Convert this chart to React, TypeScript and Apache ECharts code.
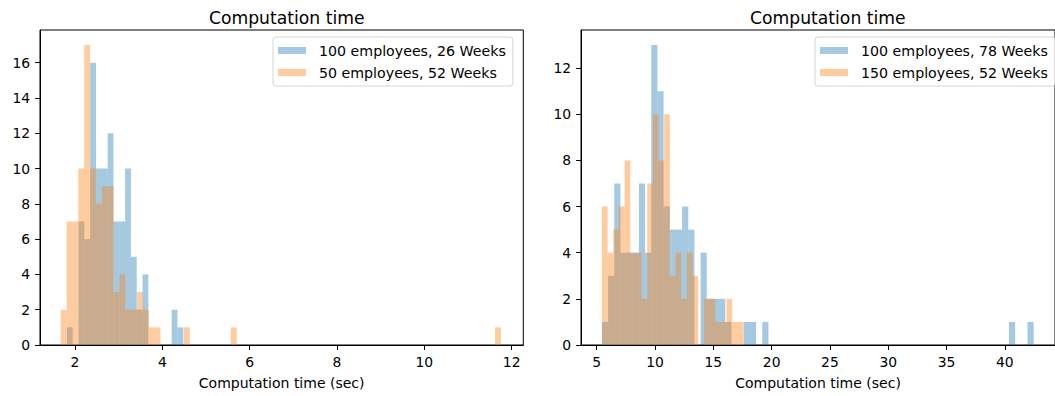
import { useEffect, useRef } from "react";
import * as echarts from "echarts";

const FONT = "'DejaVu Sans', sans-serif";

const titleText = "Computation time";
const xAxisName = "Computation time (sec)";

// Left panel
const leftBlueName = "100 employees, 26 Weeks";
const leftBlueStart = 1.815;
const leftBlueWidth = 0.13325;
const leftBlueCounts = [1, 0, 7, 6, 16, 10, 10, 12, 7, 7, 10, 5, 2, 4, 0, 0, 0, 0, 2, 1];

const leftOrangeName = "50 employees, 52 Weeks";
const leftOrangeStart = 1.673;
const leftOrangeWidth = 0.1344;
const leftOrangeCounts = [
  2, 7, 7, 10, 17, 10, 8, 9, 9, 3,
  4, 2, 2, 3, 2, 1, 1, 0, 0, 0,
  0, 1, 0, 0, 0, 0, 0, 0, 0, 1,
  0, 0, 0, 0, 0, 0, 0, 0, 0, 0,
  0, 0, 0, 0, 0, 0, 0, 0, 0, 0,
  0, 0, 0, 0, 0, 0, 0, 0, 0, 0,
  0, 0, 0, 0, 0, 0, 0, 0, 0, 0,
  0, 0, 0, 0, 1,
];

// Right panel
const rightBlueName = "100 employees, 78 Weeks";
const rightBlueStart = 5.446;
const rightBlueWidth = 0.5289;
const rightBlueCounts = [
  1, 3, 7, 4, 4, 4, 7, 4, 13, 11,
  6, 5, 5, 6, 5, 0, 4, 2, 2, 2,
  1, 0, 0, 1, 1, 0, 1, 0, 0, 0,
  0, 0, 0, 0, 0, 0, 0, 0, 0, 0,
  0, 0, 0, 0, 0, 0, 0, 0, 0, 0,
  0, 0, 0, 0, 0, 0, 0, 0, 0, 0,
  0, 0, 0, 0, 0, 0, 1, 0, 0, 1,
];

const rightOrangeName = "150 employees, 52 Weeks";
const rightOrangeStart = 5.446;
const rightOrangeWidth = 0.4856;
const rightOrangeCounts = [
  6, 4, 5, 6, 8, 4, 4, 2, 7, 10,
  8, 10, 3, 4, 2, 4, 3, 0, 2, 2,
  1, 1, 2, 1, 1,
];

const leftXTicks = [2, 4, 6, 8, 10, 12];
const rightXTicks = [5, 10, 15, 20, 25, 30, 35, 40];
const leftYTicks = [0, 2, 4, 6, 8, 10, 12, 14, 16];
const rightYTicks = [0, 2, 4, 6, 8, 10, 12];

const BLUE = "rgba(31,119,180,0.4)";
const ORANGE = "rgba(255,127,14,0.4)";

function bins(start: number, width: number, counts: number[]) {
  const out: number[][] = [];
  counts.forEach((c, i) => {
    if (c > 0) out.push([start + i * width, start + (i + 1) * width, c]);
  });
  return out;
}

function renderBar(params: any, api: any) {
  const p0 = api.coord([api.value(0), api.value(2)]);
  const p1 = api.coord([api.value(1), 0]);
  return {
    type: "rect",
    shape: { x: p0[0], y: p0[1], width: p1[0] - p0[0], height: p1[1] - p0[1] },
    style: { fill: api.visual("color") },
  };
}

function xAxis(gridIndex: number, min: number, max: number, ticks: number[]) {
  return {
    type: "value",
    gridIndex,
    min,
    max,
    name: xAxisName,
    nameLocation: "middle",
    nameGap: 31,
    nameTextStyle: { fontSize: 14, fontFamily: FONT, color: "#000" },
    axisLine: { show: true, lineStyle: { color: "#000", width: 1 } },
    axisTick: { show: true, length: 4.9, lineStyle: { color: "#000", width: 1 }, customValues: ticks },
    axisLabel: { fontSize: 13.9, fontFamily: FONT, color: "#000", margin: 9.8, customValues: ticks },
    splitLine: { show: false },
  };
}

function yAxis(gridIndex: number, max: number, ticks: number[]) {
  return {
    type: "value",
    gridIndex,
    min: 0,
    max,
    axisLine: { show: true, lineStyle: { color: "#000", width: 1 } },
    axisTick: { show: true, length: 4.9, lineStyle: { color: "#000", width: 1 }, customValues: ticks },
    axisLabel: { fontSize: 13.9, fontFamily: FONT, color: "#000", margin: 9.8, customValues: ticks },
    splitLine: { show: false },
  };
}

function legend(left: number, names: string[]) {
  return {
    data: names,
    orient: "vertical",
    left,
    top: 37,
    icon: "rect",
    itemWidth: 28,
    itemHeight: 7,
    itemGap: 8,
    padding: [6.5, 7, 6.5, 5],
    backgroundColor: "#fff",
    borderColor: "#d6d6d6",
    borderWidth: 1,
    borderRadius: 3,
    selectedMode: false,
    textStyle: { fontSize: 14.2, fontFamily: FONT, color: "#000", padding: [0, 0, 0, 8] },
  };
}

export default function App() {
  const ref = useRef<HTMLDivElement>(null);
  useEffect(() => {
    if (!ref.current) return;
    const chart = echarts.init(ref.current, undefined, { renderer: "svg" });
    const titleStyle = { fontSize: 17.2, fontWeight: "normal", fontFamily: FONT, color: "#000" };
    chart.setOption({
      animation: false,
      backgroundColor: "#fff",
      title: [
        { text: titleText, left: 281.7, top: 4.5, textAlign: "center", textStyle: titleStyle },
        { text: titleText, left: 822.8, top: 4.5, textAlign: "center", textStyle: titleStyle },
      ],
      grid: [
        { left: 40, top: 30, width: 483.3, height: 315, show: true, borderColor: "#000", borderWidth: 1 },
        { left: 581, top: 30, width: 483.5, height: 315, show: true, borderColor: "#000", borderWidth: 1 },
      ],
      xAxis: [xAxis(0, 1.199, 12.266, leftXTicks), xAxis(1, 3.65, 44.3, rightXTicks)],
      yAxis: [yAxis(0, 17.85, leftYTicks), yAxis(1, 13.65, rightYTicks)],
      legend: [legend(273, [leftBlueName, leftOrangeName]), legend(815, [rightBlueName, rightOrangeName])],
      series: [
        {
          type: "custom", name: leftBlueName, xAxisIndex: 0, yAxisIndex: 0,
          itemStyle: { color: BLUE }, renderItem: renderBar, encode: { x: [0, 1], y: 2 },
          data: bins(leftBlueStart, leftBlueWidth, leftBlueCounts),
        },
        {
          type: "custom", name: leftOrangeName, xAxisIndex: 0, yAxisIndex: 0,
          itemStyle: { color: ORANGE }, renderItem: renderBar, encode: { x: [0, 1], y: 2 },
          data: bins(leftOrangeStart, leftOrangeWidth, leftOrangeCounts),
        },
        {
          type: "custom", name: rightBlueName, xAxisIndex: 1, yAxisIndex: 1,
          itemStyle: { color: BLUE }, renderItem: renderBar, encode: { x: [0, 1], y: 2 },
          data: bins(rightBlueStart, rightBlueWidth, rightBlueCounts),
        },
        {
          type: "custom", name: rightOrangeName, xAxisIndex: 1, yAxisIndex: 1,
          itemStyle: { color: ORANGE }, renderItem: renderBar, encode: { x: [0, 1], y: 2 },
          data: bins(rightOrangeStart, rightOrangeWidth, rightOrangeCounts),
        },
      ],
    });
    return () => chart.dispose();
  }, []);
  return (
    <div
      ref={ref}
      style={{ position: "absolute", left: 0, top: 0, width: 1055, height: 396, background: "#fff" }}
    />
  );
}
